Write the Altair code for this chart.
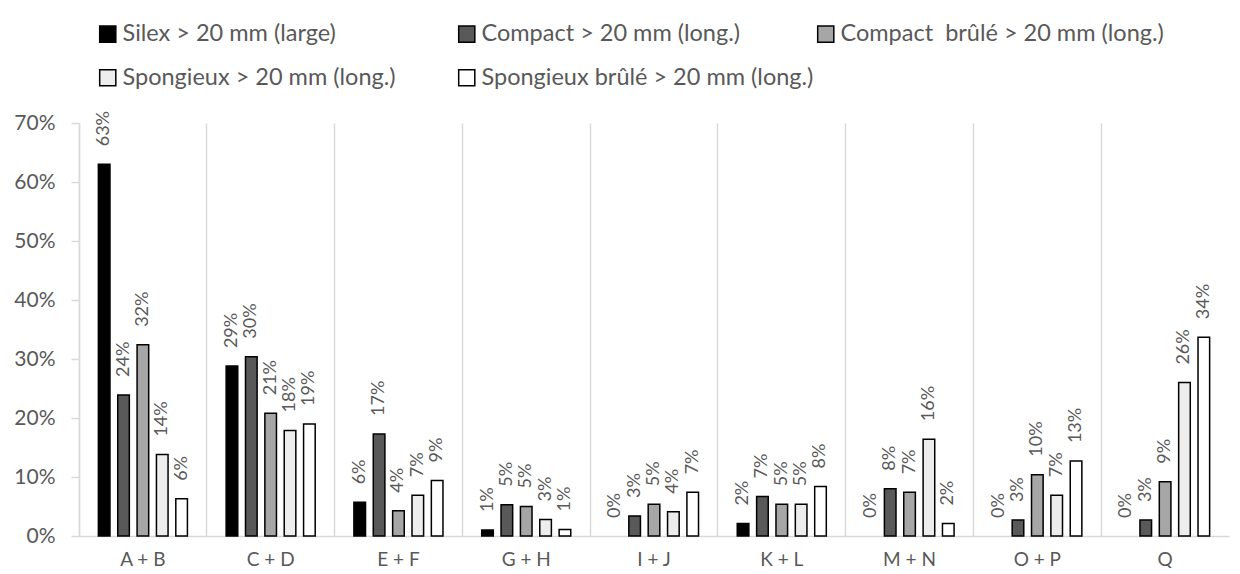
import altair as alt
import pandas as pd

categories = ["A + B", "C + D", "E + F", "G + H", "I + J", "K + L", "M + N", "O + P", "Q"]
series = [
    "Silex > 20 mm (large)",
    "Compact > 20 mm (long.)",
    "Compact\u00a0 brûlé > 20 mm (long.)",
    "Spongieux > 20 mm (long.)",
    "Spongieux brûlé > 20 mm (long.)",
]
silex = [63.0, 28.8, 5.7, 1.0, 0.0, 2.1, 0.0, 0.0, 0.0]
compact = [23.9, 30.4, 17.3, 5.3, 3.4, 6.7, 8.0, 2.7, 2.7]
compact_brule = [32.4, 20.8, 4.3, 5.0, 5.4, 5.4, 7.4, 10.4, 9.2]
spongieux = [13.8, 17.9, 6.9, 2.8, 4.1, 5.4, 16.4, 6.9, 26.0]
spongieux_brule = [6.3, 19.0, 9.4, 1.1, 7.4, 8.4, 2.1, 12.7, 33.7]
colors = ["#000000", "#595959", "#a6a6a6", "#ededed", "#ffffff"]

values = [silex, compact, compact_brule, spongieux, spongieux_brule]
rows = []
for s, vals in zip(series, values):
    for c, v in zip(categories, vals):
        rows.append({"cat": c, "series": s, "value": v / 100.0})
df = pd.DataFrame(rows)

FONT = "Lato"
GRID = "#d9d9d9"
TXT = "#595959"
W = 1150
H = 413

x_enc = alt.X(
    "cat:N",
    sort=categories,
    scale=alt.Scale(paddingInner=0, paddingOuter=0),
    axis=alt.Axis(
        title=None,
        grid=True,
        gridColor=GRID,
        gridWidth=1.5,
        ticks=False,
        bandPosition=0,
        domainColor=GRID,
        domainWidth=1.5,
        labelAngle=0,
        labelAlign="center",
        labelFontSize=19,
        labelFont=FONT,
        labelColor=TXT,
        labelPadding=14,
    ),
)

base = alt.Chart(df).encode(
    x=x_enc,
    xOffset=alt.XOffset(
        "series:N", sort=series,
        scale=alt.Scale(paddingInner=0.4, paddingOuter=1.0),
    ),
    y=alt.Y(
        "value:Q",
        scale=alt.Scale(domain=[0, 0.7]),
        axis=alt.Axis(
            title=None,
            format=".0%",
            values=[0, 0.1, 0.2, 0.3, 0.4, 0.5, 0.6, 0.7],
            grid=False,
            domainColor=GRID,
            domainWidth=1.5,
            tickColor=GRID,
            tickWidth=1.5,
            tickSize=8,
            labelFontSize=21,
            labelFont=FONT,
            labelColor=TXT,
            labelPadding=16,
        ),
    ),
)

bars = base.mark_bar(stroke="black").encode(
    fill=alt.Fill(
        "series:N",
        sort=series,
        scale=alt.Scale(domain=series, range=colors),
        legend=alt.Legend(
            title=None,
            orient="none",
            legendX=17,
            legendY=-101,
            direction="horizontal",
            columns=3,
            gridAlign="all",
            columnPadding=0,
            rowPadding=19,
            symbolType="square",
            symbolSize=260,
            symbolStrokeColor="black",
            symbolStrokeWidth=1.5,
            labelFontSize=23.5,
            labelFont=FONT,
            labelColor=TXT,
            labelLimit=600,
            labelOffset=3,
            padding=0,
        ),
    ),
    strokeWidth=alt.condition("datum.value > 0", alt.value(1.5), alt.value(0)),
)

labels = base.mark_text(
    angle=270, align="left", baseline="middle", dx=18,
    fontSize=18, font=FONT, color=TXT,
).encode(text=alt.Text("value:Q", format=".0%"))

chart = (
    alt.layer(bars, labels)
    .properties(
        width=W,
        height=H,
        autosize=alt.AutoSizeParams(type="none"),
        padding={"left": 71, "top": 115, "right": 3, "bottom": 32},
        background="white",
    )
    .configure_view(stroke=None)
)

chart.save("out.html", embed_options={"renderer": "svg", "actions": False})
